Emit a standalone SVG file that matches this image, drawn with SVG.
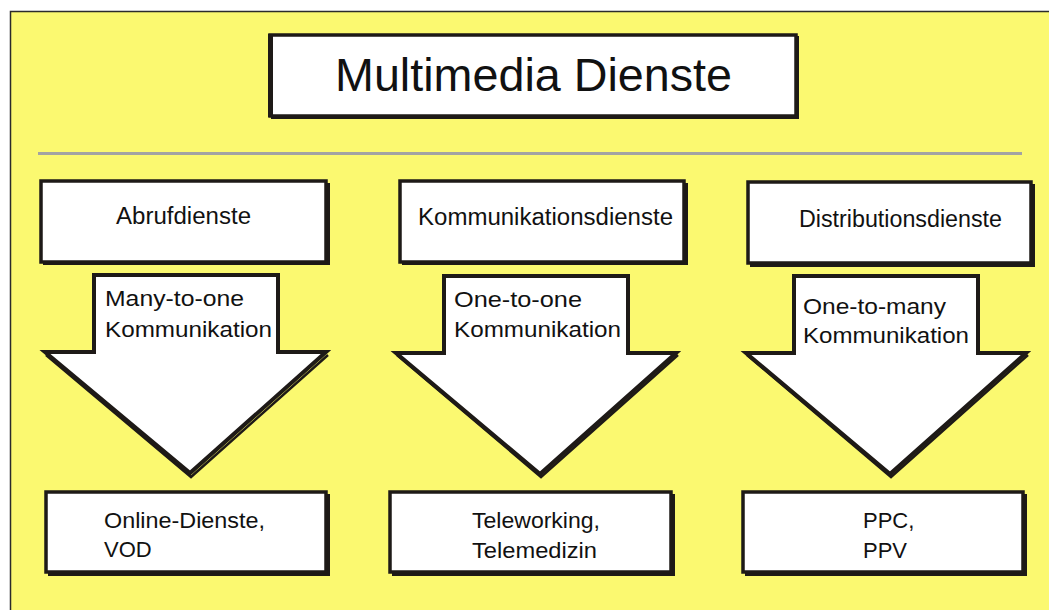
<svg xmlns="http://www.w3.org/2000/svg" width="1049" height="610" viewBox="0 0 1049 610">
  <style>
    .t { font-family: "Liberation Sans", Arial, sans-serif; fill: #111; }
    .box { fill: #fff; stroke: #1e1a17; stroke-width: 3.5; }
    .shadow { fill: #1e1a17; }
    .arrow { fill: #fff; stroke: #1e1a17; stroke-width: 4; stroke-linejoin: miter; }
    .arrowsh { fill: none; stroke: #1e1a17; stroke-width: 2.5; }
  </style>
  <rect x="0" y="0" width="1049" height="610" fill="#ffffff"/>
  <rect x="10.5" y="11.5" width="1045" height="605" fill="#fbf970" stroke="#2b2b2b" stroke-width="1.5"/>

  <g id="title">
    <rect x="271" y="36" width="528" height="83" class="shadow"/>
    <rect x="270" y="35" width="526" height="81" class="box" stroke-width="4"/>
    <rect x="268" y="34" width="5" height="83" class="shadow"/>
    <text class="t" x="335" y="91" font-size="46" textLength="397" lengthAdjust="spacingAndGlyphs">Multimedia Dienste</text>
  </g>

  <line x1="38" y1="153.5" x2="1022" y2="153.5" stroke="#a3a3a3" stroke-width="3"/>

  <g id="abrufdienste">
    <rect x="43" y="183" width="287" height="82" class="shadow"/>
    <rect x="41" y="181" width="285" height="81" class="box"/>
    <text class="t" x="116" y="224" font-size="23" textLength="135" lengthAdjust="spacingAndGlyphs">Abrufdienste</text>
  </g>
  <g id="kommunikationsdienste">
    <rect x="402" y="183" width="286" height="82" class="shadow"/>
    <rect x="400" y="181" width="284" height="81" class="box"/>
    <text class="t" x="418" y="225" font-size="23" textLength="255" lengthAdjust="spacingAndGlyphs">Kommunikationsdienste</text>
  </g>
  <g id="distributionsdienste">
    <rect x="750" y="184" width="285" height="83" class="shadow"/>
    <rect x="748" y="182" width="283" height="81" class="box"/>
    <text class="t" x="799" y="227" font-size="23" textLength="203" lengthAdjust="spacingAndGlyphs">Distributionsdienste</text>
  </g>

  <g id="connectors">
    <g id="arrow1">
      <polyline points="46,355 191,477 328,355" class="arrowsh"/>
      <polygon points="94,275 278,275 278,352 326,352 190,473 45,352 94,352" class="arrow"/>
      <text class="t" x="105" y="306" font-size="22" textLength="139" lengthAdjust="spacingAndGlyphs">Many-to-one</text>
      <text class="t" x="105" y="337" font-size="22" textLength="167" lengthAdjust="spacingAndGlyphs">Kommunikation</text>
    </g>
    <g id="arrow2">
      <polyline points="397,355 541,477 678,355" class="arrowsh"/>
      <polygon points="444,276 628,276 628,353 676,353 540,474 396,353 444,353" class="arrow"/>
      <text class="t" x="454" y="307" font-size="22" textLength="128" lengthAdjust="spacingAndGlyphs">One-to-one</text>
      <text class="t" x="454" y="337" font-size="22" textLength="167" lengthAdjust="spacingAndGlyphs">Kommunikation</text>
    </g>
    <g id="arrow3">
      <polyline points="747,355 891,477 1028,355" class="arrowsh"/>
      <polygon points="794,276 978,276 978,353 1026,353 890,474 746,353 794,353" class="arrow"/>
      <text class="t" x="803" y="314" font-size="22" textLength="143" lengthAdjust="spacingAndGlyphs">One-to-many</text>
      <text class="t" x="803" y="343" font-size="22" textLength="166" lengthAdjust="spacingAndGlyphs">Kommunikation</text>
    </g>
  </g>

  <g id="online-dienste">
    <rect x="48" y="494" width="282" height="82" class="shadow"/>
    <rect x="46" y="492" width="280" height="80" class="box"/>
    <text class="t" x="104" y="528" font-size="22" textLength="161" lengthAdjust="spacingAndGlyphs">Online-Dienste,</text>
    <text class="t" x="104" y="557" font-size="22">VOD</text>
  </g>
  <g id="teleworking">
    <rect x="392" y="494" width="283" height="82" class="shadow"/>
    <rect x="390" y="492" width="281" height="80" class="box"/>
    <text class="t" x="472" y="528" font-size="22" textLength="128" lengthAdjust="spacingAndGlyphs">Teleworking,</text>
    <text class="t" x="472" y="558" font-size="22" textLength="125" lengthAdjust="spacingAndGlyphs">Telemedizin</text>
  </g>
  <g id="ppc">
    <rect x="745" y="494" width="282" height="82" class="shadow"/>
    <rect x="743" y="492" width="280" height="80" class="box"/>
    <text class="t" x="863" y="528" font-size="22">PPC,</text>
    <text class="t" x="863" y="558" font-size="22">PPV</text>
  </g>
</svg>
